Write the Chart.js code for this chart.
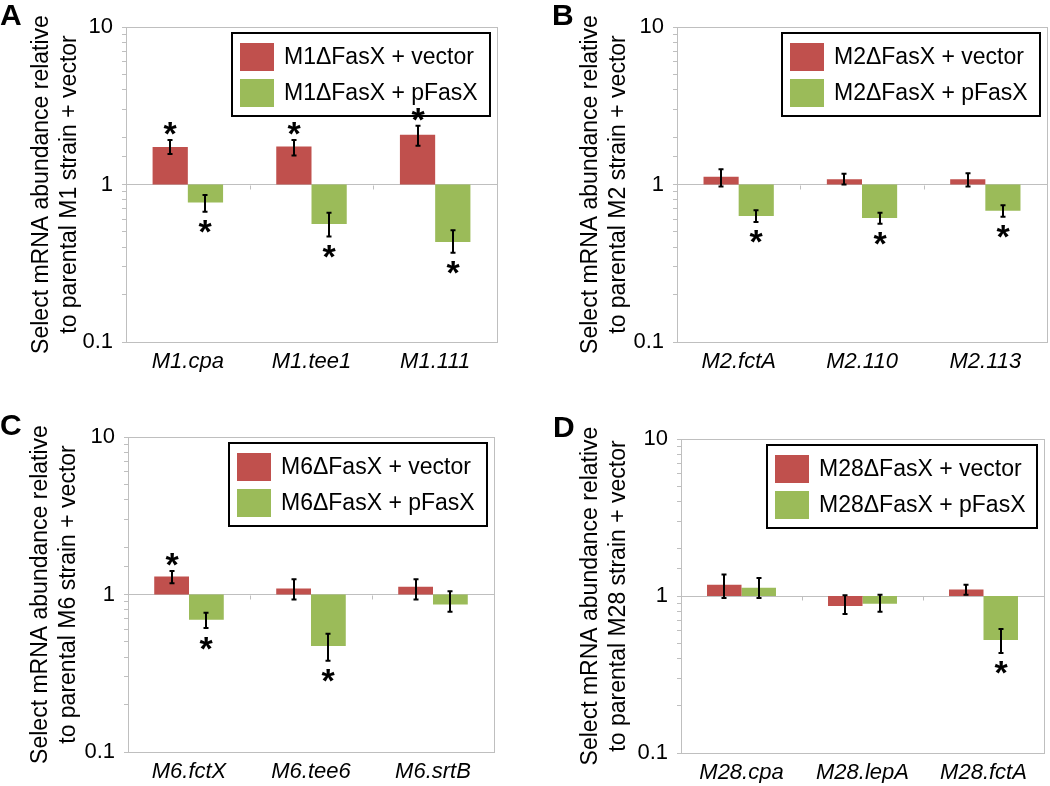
<!DOCTYPE html>
<html>
<head>
<meta charset="utf-8">
<script src="https://cdn.jsdelivr.net/npm/chart.js@4/dist/chart.umd.min.js"></script>
<style>
  body { margin: 0; background: #fff; }
  #wrap { position: relative; width: 1050px; height: 786px; }
  #wrap canvas { position: absolute; }
  .tag { position: absolute; font: bold 30px "Liberation Sans", Arial, sans-serif; line-height: 30px; color: #000; }
</style>
</head>
<body>
<div id="wrap">
  <canvas id="pA" width="525" height="393" style="left:0;top:0"></canvas>
  <canvas id="pB" width="525" height="393" style="left:525px;top:0"></canvas>
  <canvas id="pC" width="525" height="393" style="left:0;top:393px"></canvas>
  <canvas id="pD" width="525" height="393" style="left:525px;top:393px"></canvas>
  <div class="tag" style="left:0;top:0">A</div>
  <div class="tag" style="left:552px;top:0">B</div>
  <div class="tag" style="left:0;top:410px">C</div>
  <div class="tag" style="left:553px;top:412px">D</div>
</div>
<script>
// panel A - M1
const catsA = ['M1.cpa', 'M1.tee1', 'M1.111'];
const vecA = [1.73, 1.74, 2.07];
const vecHiA = [1.92, 1.92, 2.36];
const vecLoA = [1.56, 1.53, 1.76];
const vecStarA = [1, 1, 1];
const pfxA = [0.77, 0.561, 0.431];
const pfxHiA = [0.857, 0.662, 0.512];
const pfxLoA = [0.672, 0.467, 0.369];
const pfxStarA = [1, 1, 1];

// panel B - M2
const catsB = ['M2.fctA', 'M2.110', 'M2.113'];
const vecB = [1.12, 1.08, 1.08];
const vecHiB = [1.25, 1.17, 1.18];
const vecLoB = [0.97, 1.0, 0.97];
const vecStarB = [0, 0, 0];
const pfxB = [0.63, 0.612, 0.682];
const pfxHiB = [0.686, 0.662, 0.738];
const pfxLoB = [0.578, 0.564, 0.625];
const pfxStarB = [1, 1, 1];

// panel C - M6
const catsC = ['M6.fctX', 'M6.tee6', 'M6.srtB'];
const vecC = [1.30, 1.09, 1.12];
const vecHiC = [1.41, 1.25, 1.25];
const vecLoC = [1.18, 0.93, 0.93];
const vecStarC = [1, 0, 0];
const pfxC = [0.692, 0.471, 0.865];
const pfxHiC = [0.766, 0.564, 1.05];
const pfxLoC = [0.612, 0.380, 0.778];
const pfxStarC = [1, 1, 0];

// panel D - M28
const catsD = ['M28.cpa', 'M28.lepA', 'M28.fctA'];
const vecD = [1.18, 0.863, 1.10];
const vecHiD = [1.37, 1.01, 1.18];
const vecLoD = [0.97, 0.767, 1.02];
const vecStarD = [0, 0, 0];
const pfxD = [1.13, 0.894, 0.525];
const pfxHiD = [1.30, 1.02, 0.617];
const pfxLoD = [0.97, 0.794, 0.434];
const pfxStarD = [0, 0, 1];

const yTicks = [0.1, 1, 10];

const FONT = '"Liberation Sans", Arial, sans-serif';
const RED = '#c0504d';
const GREEN = '#9bbb59';
const AXIS = '#bfbfbf';

Chart.defaults.font.family = FONT;
Chart.defaults.color = '#000';

const isMajor = v => yTicks.some(t => Math.abs(t - v) < 1e-9);

// frame, error bars, asterisks and the boxed legend
const panelDecor = {
  id: 'panelDecor',
  beforeDatasetsDraw(chart) {
    const { ctx, chartArea: a, scales } = chart;
    ctx.save();
    ctx.strokeStyle = AXIS;
    ctx.lineWidth = 1;
    ctx.strokeRect(Math.round(a.left) + 0.5, Math.round(a.top) + 0.5, Math.round(a.right - a.left), Math.round(a.bottom - a.top));
    // little ticks on the line at 1 between categories
    const y1 = Math.round(scales.y.getPixelForValue(1)) + 0.5;
    const n = chart.data.labels.length;
    ctx.beginPath();
    for (let i = 1; i < n; i++) {
      const x = Math.round((scales.x.getPixelForValue(i - 1) + scales.x.getPixelForValue(i)) / 2) + 0.5;
      ctx.moveTo(x, y1);
      ctx.lineTo(x, y1 + 4);
    }
    ctx.stroke();
    ctx.restore();
  },
  afterDatasetsDraw(chart, args, opts) {
    const { ctx, chartArea: a, scales } = chart;
    ctx.save();
    ctx.strokeStyle = '#000';
    ctx.fillStyle = '#000';
    ctx.lineWidth = 2;
    ctx.font = 'bold 34px ' + FONT;
    ctx.textAlign = 'center';
    ctx.textBaseline = 'alphabetic';
    const m = ctx.measureText('*');
    const half = (m.actualBoundingBoxAscent - m.actualBoundingBoxDescent) / 2;

    chart.data.datasets.forEach((ds, i) => {
      const meta = chart.getDatasetMeta(i);
      meta.data.forEach((bar, j) => {
        const x = Math.round(bar.x);
        const yHi = scales.y.getPixelForValue(ds.errHi[j]);
        const yLo = scales.y.getPixelForValue(ds.errLo[j]);
        ctx.beginPath();
        ctx.moveTo(x, yHi);
        ctx.lineTo(x, yLo);
        ctx.moveTo(x - 2.5, yHi);
        ctx.lineTo(x + 2.5, yHi);
        ctx.moveTo(x - 2.5, yLo);
        ctx.lineTo(x + 2.5, yLo);
        ctx.stroke();
        if (ds.stars[j]) {
          const up = ds.values[j] >= 1;
          const cy = up ? yHi - 11 : yLo + 15;
          ctx.fillText('*', x, cy + half);
        }
      });
    });

    // legend
    ctx.font = '23px ' + FONT;
    ctx.textAlign = 'left';
    ctx.textBaseline = 'middle';
    const w = Math.max(...chart.data.datasets.map(ds => ctx.measureText(ds.label).width));
    const boxW = Math.round(52 + w + 12);
    const boxH = 83;
    const bx = Math.round(a.right - opts.rightInset - boxW);
    const by = Math.round(a.top + opts.topInset);
    ctx.strokeStyle = '#000';
    ctx.lineWidth = 2;
    ctx.strokeRect(bx, by, boxW, boxH);
    chart.data.datasets.forEach((ds, i) => {
      const rowY = by + 24 + i * 36;
      ctx.fillStyle = ds.backgroundColor;
      ctx.fillRect(bx + 8, rowY - 14, 34, 28);
      ctx.fillStyle = '#000';
      ctx.fillText(ds.label, bx + 52, rowY + 1);
    });
    ctx.restore();
  }
};

function makePanel(id, strain, cats, series, geo) {
  const datasets = series.map((s, i) => ({
    label: strain + 'ΔFasX + ' + (i === 0 ? 'vector' : 'pFasX'),
    data: s.values.map(v => [1, v]),
    values: s.values,
    errHi: s.hi,
    errLo: s.lo,
    stars: s.stars,
    backgroundColor: i === 0 ? RED : GREEN,
    borderWidth: 0,
    categoryPercentage: 0.57,
    barPercentage: 1.0
  }));

  return new Chart(document.getElementById(id), {
    type: 'bar',
    data: { labels: cats, datasets: datasets },
    options: {
      responsive: false,
      animation: false,
      layout: {
        padding: { left: 0, top: geo.top, right: geo.right, bottom: geo.bottom }
      },
      scales: {
        x: {
          grid: { display: false, drawTicks: false },
          border: { display: false },
          ticks: { padding: 7, font: { size: 22, style: 'italic' }, color: '#000' },
          afterFit: s => { s.height = 30; }
        },
        y: {
          type: 'logarithmic',
          min: 0.1,
          max: 10,
          grid: {
            drawOnChartArea: true,
            color: c => (c.tick && Math.abs(c.tick.value - 1) < 1e-9) ? AXIS : 'rgba(0,0,0,0)',
            tickColor: AXIS,
            tickLength: 4
          },
          border: { display: true, color: AXIS },
          ticks: {
            autoSkip: false,
            padding: 9,
            font: { size: 22 },
            color: '#000',
            callback: v => isMajor(v) ? String(v) : ''
          },
          title: {
            display: true,
            text: ['Select mRNA abundance relative', 'to parental ' + strain + ' strain + vector'],
            font: { size: 23, lineHeight: 1.2 },
            color: '#000',
            padding: { top: geo.titlePad, bottom: 0 }
          },
          afterFit: s => { s.width = geo.axisW; }
        }
      },
      plugins: {
        legend: { display: false },
        tooltip: { enabled: false },
        panelDecor: { rightInset: 7, topInset: 6 }
      }
    },
    plugins: [panelDecor]
  });
}

makePanel('pA', 'M1', catsA, [
  { values: vecA, hi: vecHiA, lo: vecLoA, stars: vecStarA },
  { values: pfxA, hi: pfxHiA, lo: pfxLoA, stars: pfxStarA }
], { axisW: 126, top: 27, right: 28, bottom: 21, titlePad: 28 });

makePanel('pB', 'M2', catsB, [
  { values: vecB, hi: vecHiB, lo: vecLoB, stars: vecStarB },
  { values: pfxB, hi: pfxHiB, lo: pfxLoB, stars: pfxStarB }
], { axisW: 152, top: 27, right: 3, bottom: 21, titlePad: 52 });

makePanel('pC', 'M6', catsC, [
  { values: vecC, hi: vecHiC, lo: vecLoC, stars: vecStarC },
  { values: pfxC, hi: pfxHiC, lo: pfxLoC, stars: pfxStarC }
], { axisW: 128, top: 44, right: 31, bottom: 4, titlePad: 27 });

makePanel('pD', 'M28', catsD, [
  { values: vecD, hi: vecHiD, lo: vecLoD, stars: vecStarD },
  { values: pfxD, hi: pfxHiD, lo: pfxLoD, stars: pfxStarD }
], { axisW: 156, top: 46, right: 6, bottom: 3, titlePad: 52 });
</script>
</body>
</html>
